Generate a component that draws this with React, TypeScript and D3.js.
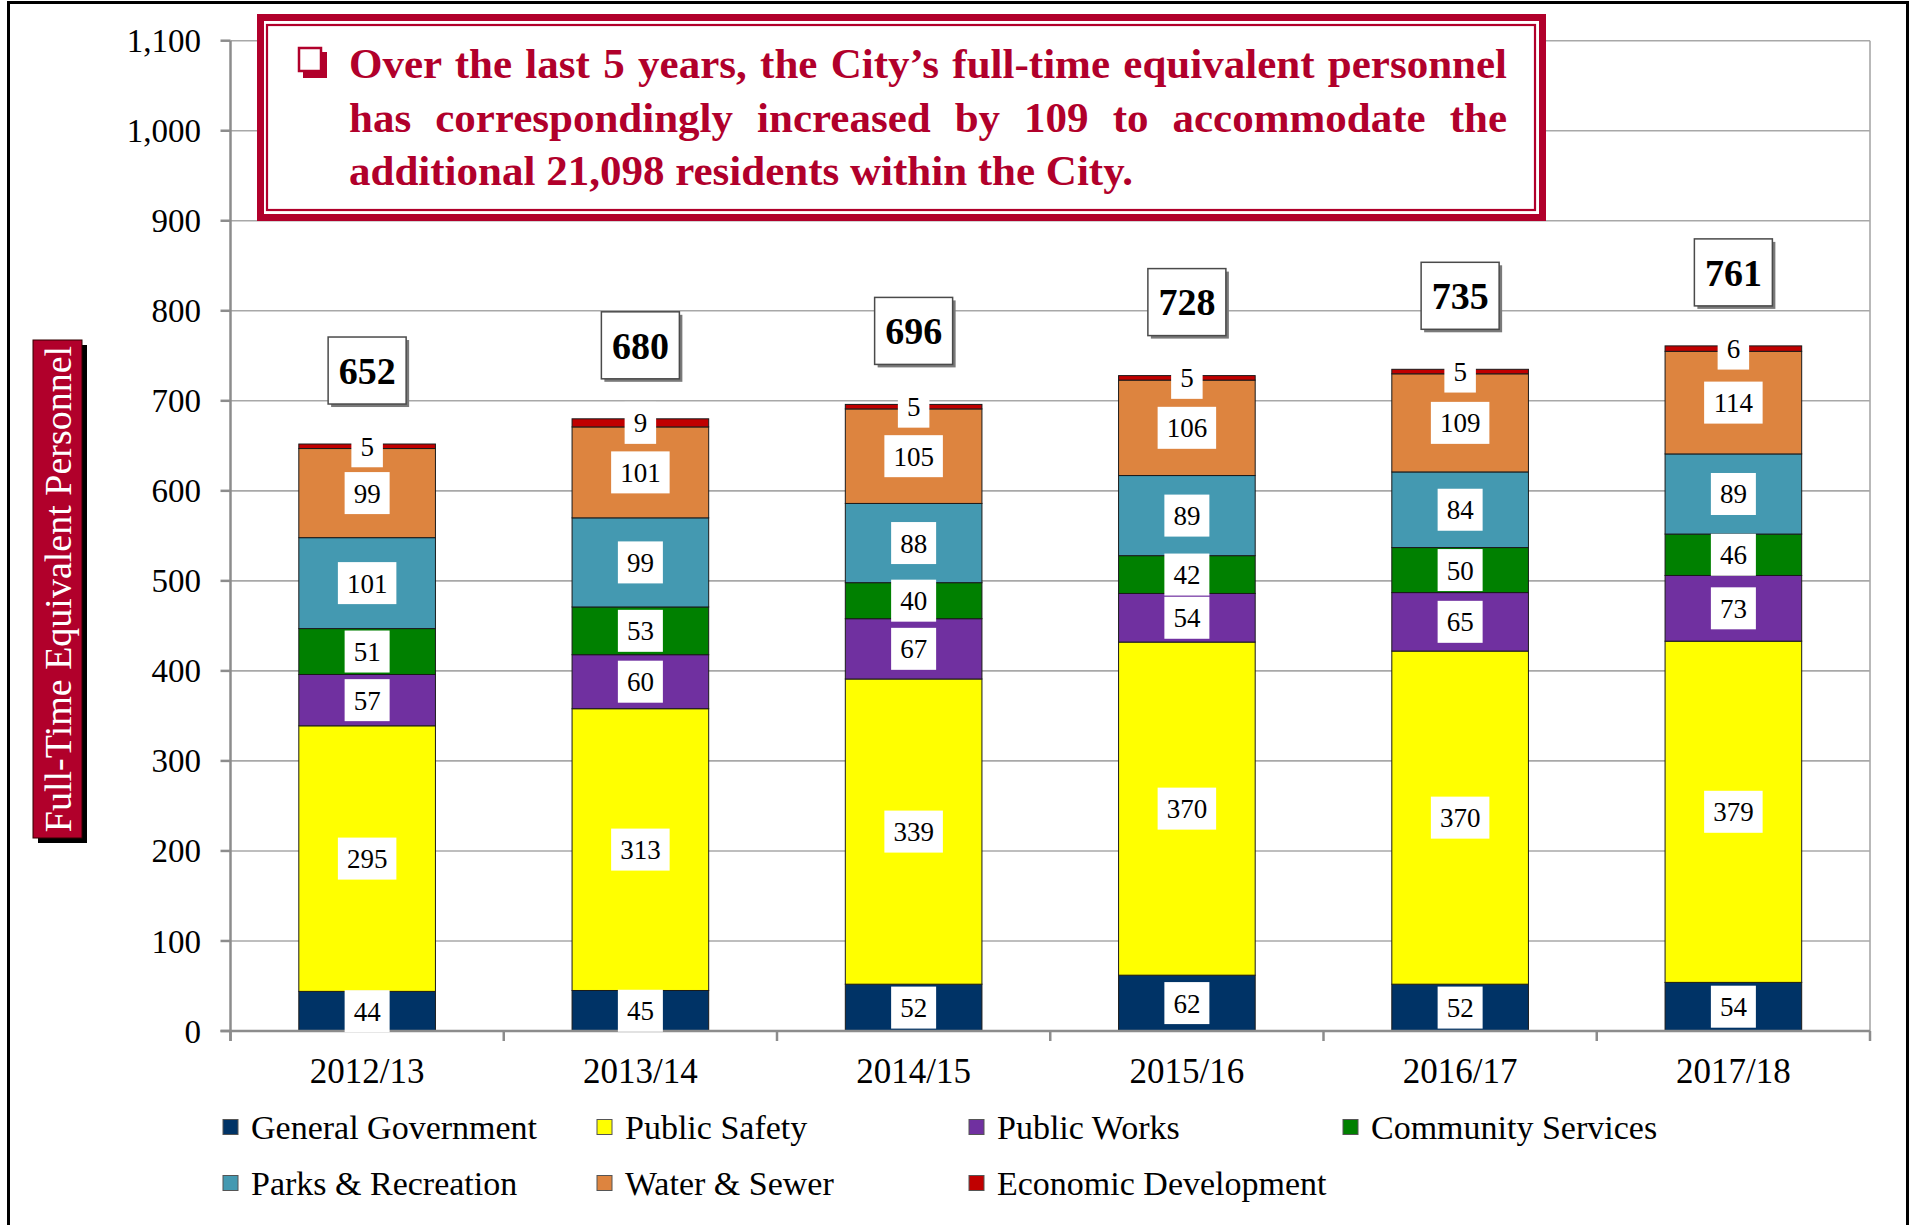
import React, { useEffect, useRef, useState } from 'react';
import * as d3 from 'd3';

const categories = ['2012/13', '2013/14', '2014/15', '2015/16', '2016/17', '2017/18'];
const seriesNames = [
  'General Government',
  'Public Safety',
  'Public Works',
  'Community Services',
  'Parks & Recreation',
  'Water & Sewer',
  'Economic Development',
];
const generalGovernment = [44, 45, 52, 62, 52, 54];
const publicSafety = [295, 313, 339, 370, 370, 379];
const publicWorks = [57, 60, 67, 54, 65, 73];
const communityServices = [51, 53, 40, 42, 50, 46];
const parksRecreation = [101, 99, 88, 89, 84, 89];
const waterSewer = [99, 101, 105, 106, 109, 114];
const economicDevelopment = [5, 9, 5, 5, 5, 6];
const totals = [652, 680, 696, 728, 735, 761];
const yTicks = [0, 100, 200, 300, 400, 500, 600, 700, 800, 900, 1000, 1100];
const seriesColors = ['#003366', '#FFFF00', '#7030A0', '#008000', '#4499B1', '#DD843F', '#C00000'];
const legendRows = [
  [0, 1, 2, 3],
  [4, 5, 6],
];
const titleLines = [
  'Over the last 5 years, the City\u2019s full-time equivalent personnel',
  'has correspondingly increased by 109 to accommodate the',
  'additional 21,098 residents within the City.',
];
const yAxisTitle = 'Full-Time Equivalent Personnel';

const seriesValues = [
  generalGovernment,
  publicSafety,
  publicWorks,
  communityServices,
  parksRecreation,
  waterSewer,
  economicDevelopment,
];

const W = 1909;
const H = 1225;
const SERIF = '"Liberation Serif", "Times New Roman", serif';
const RED = '#B1002B';

export default function App() {
  const plotLeft = 230.5;
  const plotRight = 1870;
  const x = d3
    .scaleBand<string>()
    .domain(categories)
    .range([plotLeft, plotRight])
    .paddingInner(0.5)
    .paddingOuter(0.25);
  const y = d3.scaleLinear().domain([0, 1100]).range([1031, 40.7]);
  const step = x.step();
  const fmt = d3.format(',');

  const rows = categories.map((c, i) => {
    const o: any = { cat: c };
    seriesNames.forEach((s, k) => (o[s] = seriesValues[k][i]));
    return o;
  });
  const stacked = d3.stack<any>().keys(seriesNames)(rows);

  const titleRefs = useRef<(SVGTextElement | null)[]>([]);
  const [spacing, setSpacing] = useState<number[]>([0, 0, 0]);
  const textLeft = 349;
  const textRight = 1507;
  useEffect(() => {
    const sp = titleLines.map((line, i) => {
      if (i === titleLines.length - 1) return 0;
      const el = titleRefs.current[i];
      if (!el) return 0;
      const w = el.getComputedTextLength();
      const n = line.split(' ').length - 1;
      return n > 0 ? (textRight - textLeft - w) / n : 0;
    });
    setSpacing(sp);
  }, []);

  const labelFont = 27;
  const totalBoxW = 78;
  const totalBoxH = 67;

  return (
    <svg
      width={W}
      height={H}
      style={{ position: 'absolute', left: 0, top: 0, background: '#fff' }}
      fontFamily={SERIF}
    >
      <rect x={0} y={0} width={W} height={H} fill="#fff" />
      {/* outer chart border */}
      <rect x={8.5} y={2.5} width={1899} height={1240} fill="none" stroke="#000" strokeWidth={3} />

      {/* gridlines */}
      {yTicks.map((t) => (
        <line key={'g' + t} x1={plotLeft} x2={plotRight} y1={y(t)} y2={y(t)} stroke="#A8A8A8" strokeWidth={1.6} />
      ))}
      {/* plot right border */}
      <line x1={plotRight} x2={plotRight} y1={y(1100)} y2={y(0)} stroke="#A8A8A8" strokeWidth={1.6} />

      {/* bars */}
      {stacked.map((layer, k) => (
        <g key={'s' + k}>
          {layer.map((d, i) => (
            <rect
              key={i}
              x={x(categories[i])!}
              y={y(d[1])}
              width={x.bandwidth()}
              height={y(d[0]) - y(d[1])}
              fill={seriesColors[k]}
              stroke="#1a1a1a"
              strokeWidth={1}
            />
          ))}
        </g>
      ))}

      {/* axes */}
      <line x1={plotLeft} x2={plotLeft} y1={y(1100)} y2={y(0) + 10} stroke="#8C8C8C" strokeWidth={2.5} />
      <line x1={plotLeft - 10} x2={plotRight} y1={y(0)} y2={y(0)} stroke="#8C8C8C" strokeWidth={2.5} />
      {yTicks.map((t) => (
        <g key={'yt' + t}>
          <line x1={plotLeft - 10} x2={plotLeft} y1={y(t)} y2={y(t)} stroke="#8C8C8C" strokeWidth={2.5} />
          <text x={201} y={y(t)} dy="0.35em" textAnchor="end" fontSize={33} fill="#000">
            {fmt(t)}
          </text>
        </g>
      ))}
      {d3.range(categories.length + 1).map((i) => (
        <line
          key={'xt' + i}
          x1={plotLeft + i * step}
          x2={plotLeft + i * step}
          y1={y(0)}
          y2={y(0) + 10}
          stroke="#8C8C8C"
          strokeWidth={2.5}
        />
      ))}
      {categories.map((c) => (
        <text key={c} x={x(c)! + x.bandwidth() / 2} y={1071} dy="0.35em" textAnchor="middle" fontSize={35} fill="#000">
          {c}
        </text>
      ))}

      {/* data labels */}
      {stacked.map((layer, k) => (
        <g key={'l' + k}>
          {layer.map((d, i) => {
            const v = seriesValues[k][i];
            const txt = String(v);
            const bw = txt.length * labelFont * 0.5 + 18;
            const bh = 42;
            const cx = x(categories[i])! + x.bandwidth() / 2;
            const cy = (y(d[0]) + y(d[1])) / 2;
            return (
              <g key={i}>
                <rect x={cx - bw / 2} y={cy - bh / 2} width={bw} height={bh} fill="#fff" />
                <text x={cx} y={cy} dy="0.35em" textAnchor="middle" fontSize={labelFont} fill="#000">
                  {txt}
                </text>
              </g>
            );
          })}
        </g>
      ))}

      {/* totals */}
      {totals.map((t, i) => {
        const cx = x(categories[i])! + x.bandwidth() / 2;
        const bottom = y(t) - 40;
        const top = bottom - totalBoxH;
        return (
          <g key={'t' + i}>
            <rect x={cx - totalBoxW / 2 + 3} y={top + 3} width={totalBoxW} height={totalBoxH} fill="#7a7a7a" />
            <rect
              x={cx - totalBoxW / 2}
              y={top}
              width={totalBoxW}
              height={totalBoxH}
              fill="#fff"
              stroke="#4a4a4a"
              strokeWidth={1.5}
            />
            <text x={cx} y={top + totalBoxH / 2} dy="0.35em" textAnchor="middle" fontSize={38} fontWeight="bold" fill="#000">
              {t}
            </text>
          </g>
        );
      })}

      {/* title box */}
      <rect x={260.5} y={17.5} width={1282} height={200} fill="#fff" stroke={RED} strokeWidth={7} />
      <rect x={267} y={25} width={1268} height={185} fill="none" stroke={RED} strokeWidth={2.2} />
      <rect x={303} y={52} width={24} height={26} fill={RED} />
      <rect x={299} y={48} width={22} height={23} fill="#fff" stroke={RED} strokeWidth={2.5} />
      {titleLines.map((line, i) => (
        <text
          key={'tl' + i}
          ref={(el) => {
            titleRefs.current[i] = el;
          }}
          x={textLeft}
          y={78 + i * 53.5}
          fontSize={43}
          fontWeight="bold"
          fill={RED}
          style={{ wordSpacing: spacing[i] + 'px' }}
        >
          {line}
        </text>
      ))}

      {/* y axis title box */}
      <rect x={38} y={345} width={49} height={498} fill="#000" />
      <rect x={33} y={340} width={49} height={498} fill={RED} stroke="#300" strokeWidth={1} />
      <text
        transform={`translate(${57.5},${589}) rotate(-90)`}
        textAnchor="middle"
        dy="0.35em"
        fontSize={38}
        fill="#fff"
      >
        {yAxisTitle}
      </text>

      {/* legend */}
      {legendRows.map((row, r) =>
        row.map((k, c) => {
          const lx = [223, 597, 969, 1343][c];
          const ly = [1127, 1183][r];
          return (
            <g key={'lg' + k}>
              <rect x={lx} y={ly - 7.5} width={15} height={15} fill={seriesColors[k]} stroke="#555" strokeWidth={1} />
              <text x={lx + 28} y={ly} dy="0.35em" fontSize={34} fill="#000">
                {seriesNames[k]}
              </text>
            </g>
          );
        })
      )}
    </svg>
  );
}
